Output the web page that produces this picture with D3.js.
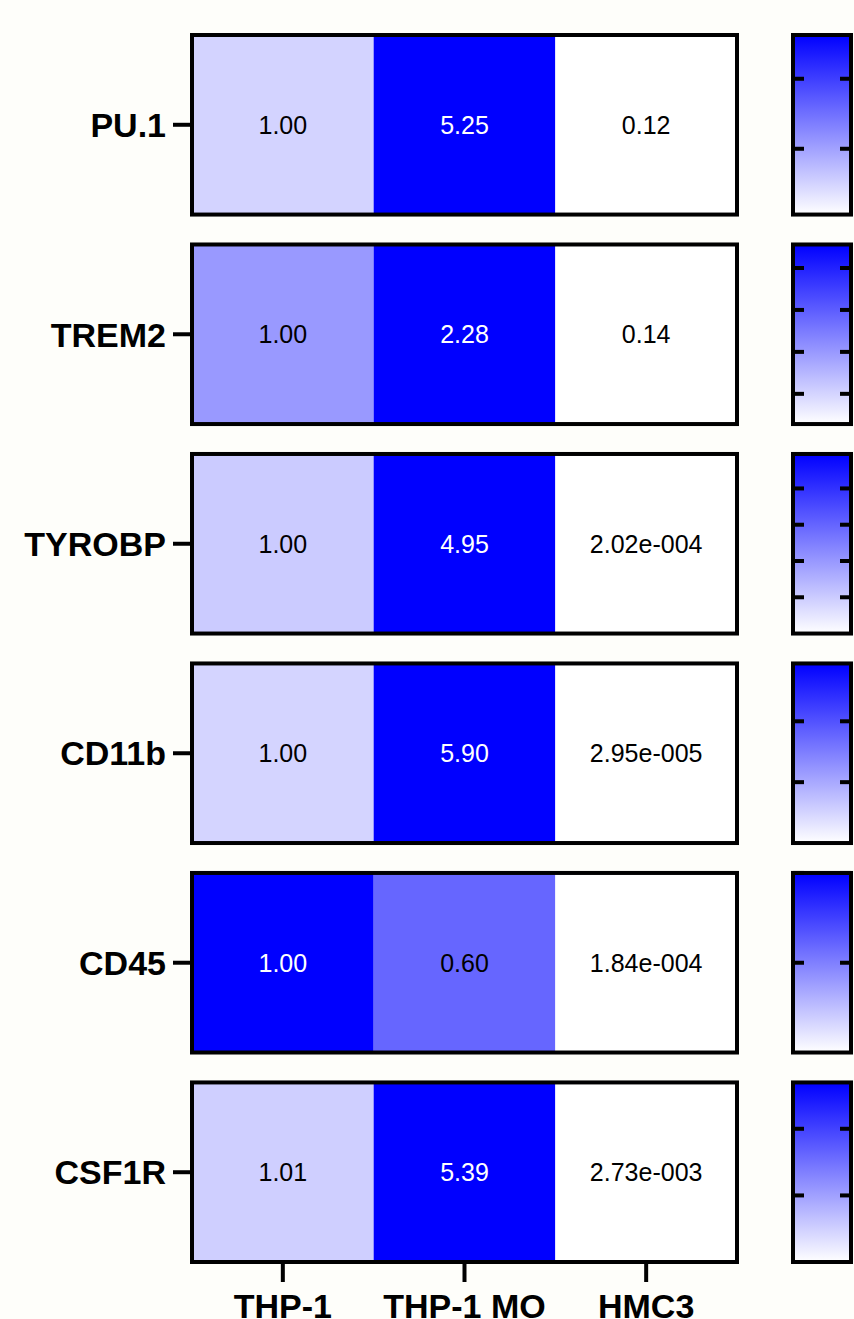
<!DOCTYPE html>
<html>
<head>
<meta charset="utf-8">
<script src="https://cdn.jsdelivr.net/npm/d3@7"></script>
<style>
  html, body { margin: 0; padding: 0; background: #fefefa; }
  svg { display: block; font-family: Arial, "Liberation Sans", sans-serif; }
</style>
</head>
<body>
<div id="chart"></div>
<script>
// genes (rows) and samples (columns)
var genes = ["PU.1", "TREM2", "TYROBP", "CD11b", "CD45", "CSF1R"];
var samples = ["THP-1", "THP-1 MO", "HMC3"];

// relative expression per gene, one value per sample
var pu1 = [1.00, 5.25, 0.12];
var trem2 = [1.00, 2.28, 0.14];
var tyrobp = [1.00, 4.95, 2.02e-4];
var cd11b = [1.00, 5.90, 2.95e-5];
var cd45 = [1.00, 0.60, 1.84e-4];
var csf1r = [1.01, 5.39, 2.73e-3];

// colour bar tick values for each gene
var pu1Ticks = [2, 4];
var trem2Ticks = [0.5, 1, 1.5, 2];
var tyrobpTicks = [1, 2, 3, 4];
var cd11bTicks = [2, 4];
var cd45Ticks = [0.5, 1];
var csf1rTicks = [2, 4];

var rows = [
  { gene: "PU.1", values: pu1, ticks: pu1Ticks },
  { gene: "TREM2", values: trem2, ticks: trem2Ticks },
  { gene: "TYROBP", values: tyrobp, ticks: tyrobpTicks },
  { gene: "CD11b", values: cd11b, ticks: cd11bTicks },
  { gene: "CD45", values: cd45, ticks: cd45Ticks },
  { gene: "CSF1R", values: csf1r, ticks: csf1rTicks }
];

var width = 854, height = 1319;

var svg = d3.select("#chart").append("svg")
  .attr("width", width)
  .attr("height", height);

// scales
var x = d3.scaleBand().domain(samples).range([192, 737]);
var y = d3.scaleBand().domain(genes).range([35, 1262]).paddingInner(1 / 7);

// number format like "2.02e-004" for the tiny values
function fmt(v) {
  if (v >= 0.01) return v.toFixed(2);
  var e = Math.floor(Math.log10(v));
  var m = v / Math.pow(10, e);
  var ex = String(Math.abs(e));
  while (ex.length < 3) ex = "0" + ex;
  return m.toFixed(2) + "e" + (e < 0 ? "-" : "+") + ex;
}

// gradient for the colour bars
var grad = svg.append("defs").append("linearGradient")
  .attr("id", "bar-grad")
  .attr("x1", 0).attr("y1", 1).attr("x2", 0).attr("y2", 0);
grad.append("stop").attr("offset", "0%").attr("stop-color", "#ffffff");
grad.append("stop").attr("offset", "100%").attr("stop-color", "#0000ff");

rows.forEach(function (row) {
  var top = y(row.gene), h = y.bandwidth();
  var lo = d3.min(row.values), hi = d3.max(row.values);
  var color = d3.scaleLinear().domain([lo, hi]).range(["#ffffff", "#0000ff"]);

  var g = svg.append("g");

  // cells
  g.selectAll("rect.cell")
    .data(row.values)
    .enter()
    .append("rect")
    .attr("class", "cell")
    .attr("x", function (d, i) { return x(samples[i]); })
    .attr("y", top)
    .attr("width", x.bandwidth())
    .attr("height", h)
    .style("fill", function (d) { return color(d); });

  // values
  g.selectAll("text.val")
    .data(row.values)
    .enter()
    .append("text")
    .attr("class", "val")
    .attr("x", function (d, i) { return x(samples[i]) + x.bandwidth() / 2; })
    .attr("y", top + h / 2)
    .attr("dy", "0.36em")
    .style("text-anchor", "middle")
    .style("font-size", "25px")
    .style("fill", function (d) { return (d - lo) / (hi - lo) > 0.7 ? "#ffffff" : "#000000"; })
    .text(function (d) { return fmt(d); });

  // frame
  g.append("rect")
    .attr("x", x.range()[0])
    .attr("y", top)
    .attr("width", x.range()[1] - x.range()[0])
    .attr("height", h)
    .style("fill", "none")
    .style("stroke", "#000")
    .style("stroke-width", 4);

  // row label and tick
  g.append("line")
    .attr("x1", 173).attr("x2", 192)
    .attr("y1", top + h / 2).attr("y2", top + h / 2)
    .style("stroke", "#000").style("stroke-width", 4);
  g.append("text")
    .attr("x", 166)
    .attr("y", top + h / 2)
    .attr("dy", "0.36em")
    .style("text-anchor", "end")
    .style("font-size", "34px")
    .style("font-weight", "bold")
    .text(row.gene);

  // colour bar
  var cb = d3.scaleLinear().domain([lo, hi]).range([top + h, top]);
  g.append("rect")
    .attr("x", 793)
    .attr("y", top)
    .attr("width", 58)
    .attr("height", h)
    .style("fill", "url(#bar-grad)")
    .style("stroke", "#000")
    .style("stroke-width", 4);

  g.selectAll("line.lt")
    .data(row.ticks)
    .enter()
    .append("line")
    .attr("class", "lt")
    .attr("x1", 793).attr("x2", 804)
    .attr("y1", function (d) { return cb(d); })
    .attr("y2", function (d) { return cb(d); })
    .style("stroke", "#000").style("stroke-width", 4);
  g.selectAll("line.rt")
    .data(row.ticks)
    .enter()
    .append("line")
    .attr("class", "rt")
    .attr("x1", 840).attr("x2", 851)
    .attr("y1", function (d) { return cb(d); })
    .attr("y2", function (d) { return cb(d); })
    .style("stroke", "#000").style("stroke-width", 4);
});

// x axis below last row
var bottom = y(genes[genes.length - 1]) + y.bandwidth();
var xAxis = svg.append("g");
xAxis.selectAll("line")
  .data(samples)
  .enter()
  .append("line")
  .attr("x1", function (d) { return x(d) + x.bandwidth() / 2; })
  .attr("x2", function (d) { return x(d) + x.bandwidth() / 2; })
  .attr("y1", bottom)
  .attr("y2", bottom + 20)
  .style("stroke", "#000").style("stroke-width", 4);
xAxis.selectAll("text")
  .data(samples)
  .enter()
  .append("text")
  .attr("x", function (d) { return x(d) + x.bandwidth() / 2; })
  .attr("y", 1318)
  .style("text-anchor", "middle")
  .style("font-size", "34px")
  .style("font-weight", "bold")
  .text(function (d) { return d; });
</script>
</body>
</html>
